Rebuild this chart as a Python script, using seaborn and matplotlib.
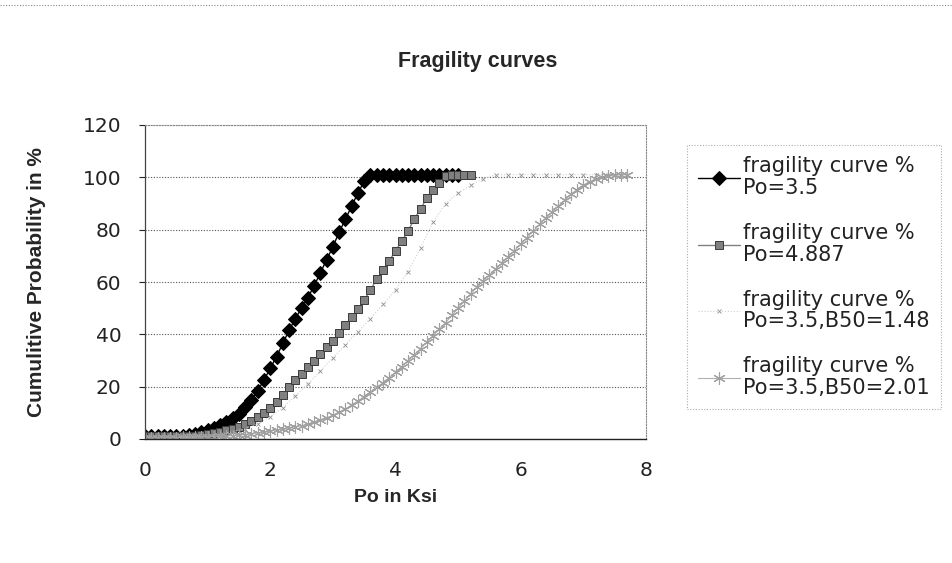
import numpy as np
import pandas as pd
import matplotlib
matplotlib.use("Agg")
import matplotlib.pyplot as plt
import seaborn as sns
from matplotlib.lines import Line2D

# ---------------- data ----------------
title = "Fragility curves"
x_label = "Po in Ksi"
y_label = "Cumulitive Probability in %"

labels = [
    "fragility curve %\nPo=3.5",
    "fragility curve %\nPo=4.887",
    "fragility curve %\nPo=3.5,B50=1.48",
    "fragility curve %\nPo=3.5,B50=2.01",
]

x1 = np.round(np.arange(0.0, 5.01, 0.1), 1)
y1 = [1, 1, 1, 1, 1, 1, 1.2, 1.5, 2, 2.6,
      3.3, 4.2, 5.2, 6.5, 8, 9.7, 12.2, 15, 18.5, 22.5,
      27, 31.5, 36.5, 41.5, 46, 50, 54, 58.5, 63.5, 68.5,
      73.5, 79, 84, 89, 94, 98.5, 101, 101, 101, 101,
      101, 101, 101, 101, 101, 101, 101, 101, 101, 101, 101]

x2 = np.round(np.arange(0.0, 5.21, 0.1), 1)
y2 = [1, 1, 1, 1, 1, 1, 1, 1, 1.2, 1.5,
      1.8, 2.3, 2.8, 3.4, 4.0, 4.7, 5.6, 6.8, 8.3, 10,
      12, 14.3, 17, 20, 22.5, 25, 27.5, 30, 32.5, 35,
      37.5, 40.5, 43.5, 46.5, 49.5, 53, 57, 61, 64.5, 68,
      72, 75.5, 79.5, 84, 88, 92, 95, 98, 100.5, 101,
      101, 101, 101]

x3 = [0, 0.2, 0.4, 0.6, 0.8, 1.0, 1.2, 1.4, 1.6, 1.8, 2.0, 2.2, 2.4, 2.6,
      2.8, 3.0, 3.2, 3.4, 3.6, 3.8, 4.0, 4.2, 4.4, 4.6, 4.8, 5.0, 5.2, 5.4,
      5.6, 5.8, 6.0, 6.2, 6.4, 6.6, 6.8, 7.0, 7.2, 7.4, 7.6, 7.7]
y3 = [0.5, 0.5, 0.5, 0.6, 0.8, 1, 1.8, 2.8, 4, 5.7,
      8.5, 12, 16.5, 21, 26, 31, 36, 41, 46, 51.5,
      57, 64, 73, 83, 90, 94, 97, 99.5, 101, 101,
      101, 101, 101, 101, 101, 101, 101, 101, 101, 101]

x4 = np.round(np.arange(0.0, 7.71, 0.1), 1)
y4 = [0.5, 0.5, 0.5, 0.5, 0.5, 0.5, 0.6, 0.7, 0.7, 0.8,
      0.8, 0.9, 1.0, 1.1, 1.3, 1.5, 1.7, 2.0, 2.3, 2.6,
      3.0, 3.4, 3.8, 4.2, 4.7, 5.1, 5.6, 6.4, 7.2, 8.1,
      9.0, 10.2, 11.5, 13, 14.5, 16.2, 18, 19.7, 21.5, 23.5,
      25.5, 27.7, 30, 32.2, 34.5, 37, 39.5, 42, 44.5, 47.2,
      50, 52.7, 55.5, 58, 60.5, 62.7, 65, 67.2, 69.5, 72,
      74.5, 77, 79.5, 82, 84.5, 86.7, 89, 91.2, 93.5, 95.3,
      97, 98.3, 99.5, 100, 100.5, 100.8, 101, 101]

x_ticks = [0, 2, 4, 6, 8]
y_ticks = [0, 20, 40, 60, 80, 100, 120]

# ---------------- style ----------------
sns.set_style("white")
plt.rcParams["font.family"] = ["DejaVu Sans"]
BOLD_FAMILY = ["Liberation Sans", "DejaVu Sans"]

fig = plt.figure(figsize=(9.52, 5.63), dpi=100)
ax = fig.add_axes([145 / 952, 1 - 439 / 563, 501 / 952, 314 / 563])

styles = [
    dict(color="black", marker="D", markersize=7.5, markeredgecolor="black",
         linewidth=1.0),
    dict(color="#808080", marker="s", markersize=5.5, markeredgecolor="#3a3a3a",
         markeredgewidth=0.7, linewidth=1.0),
    dict(color="#d0d0d0", marker="x", markersize=3, markeredgecolor="#909090",
         markeredgewidth=0.6, linewidth=0.8, linestyle=":"),
    dict(color="#b0b0b0", marker=(6, 2, 0), markersize=9, markeredgecolor="#a0a0a0",
         markeredgewidth=0.8, linewidth=0.8),
]

series = [(x1, y1), (x2, y2), (x3, y3), (x4, y4)]
for (xs, ys), lab, st in zip(series, labels, styles):
    df = pd.DataFrame({"x": xs, "y": ys})
    sns.lineplot(data=df, x="x", y="y", ax=ax, label=lab, sort=False,
                 estimator=None, **st)

ax.set_xlim(0, 8)
ax.set_ylim(0, 120)
ax.set_xticks(x_ticks)
ax.set_yticks(y_ticks)
ax.set_xticklabels([str(v) for v in x_ticks])
ax.set_yticklabels([str(v) for v in y_ticks])
ax.tick_params(axis="both", labelsize=14.5, colors="#222222")
ax.tick_params(axis="y", length=4, width=0.8, pad=13, direction="out", left=True)
ax.tick_params(axis="x", length=0, pad=16)

ax.grid(axis="y", linestyle=(0, (1, 1.5)), color="#555555", linewidth=0.8)
ax.set_axisbelow(True)
for side in ["top", "right"]:
    ax.spines[side].set_visible(True)
    ax.spines[side].set_linestyle((0, (1, 1.5)))
    ax.spines[side].set_color("#888888")
    ax.spines[side].set_linewidth(0.8)
ax.spines["left"].set_color("#444444")
ax.spines["left"].set_linestyle((0, (1, 1)))
ax.spines["left"].set_linewidth(0.9)
ax.spines["bottom"].set_color("#222222")
ax.spines["bottom"].set_linewidth(1.0)

ax.set_xlabel(x_label, fontsize=14, fontweight="bold", family=BOLD_FAMILY)
ax.set_ylabel(y_label, fontsize=15, fontweight="bold", family=BOLD_FAMILY)
ax.xaxis.set_label_coords(0.5, (439 - 489) / 314)
ax.yaxis.set_label_coords((46 - 145) / 501, 0.5)

fig.text(478 / 952, 1 - 62 / 563, title, ha="center", va="center",
         fontsize=15.5, fontweight="bold", family=BOLD_FAMILY)

leg = ax.legend(loc="upper left", bbox_to_anchor=(687 / 952, 1 - 145 / 563),
                bbox_transform=fig.transFigure, fontsize=15, frameon=True,
                fancybox=False, borderaxespad=0, handlelength=2.0,
                handletextpad=0.15, labelspacing=1.2, borderpad=0.55)
leg.get_frame().set_edgecolor("#999999")
leg.get_frame().set_linestyle((0, (1, 1.5)))
leg.get_frame().set_linewidth(0.8)
for t in leg.get_texts():
    t.set_color("#222222")
    t.set_linespacing(1.1)

# thin dotted border line at the top of the picture
fig.add_artist(Line2D([0, 1], [1 - 5 / 563, 1 - 5 / 563], transform=fig.transFigure,
                      color="#888888", linewidth=0.8, linestyle=(0, (1, 1.5))))

fig.savefig("out.png", dpi=100)
